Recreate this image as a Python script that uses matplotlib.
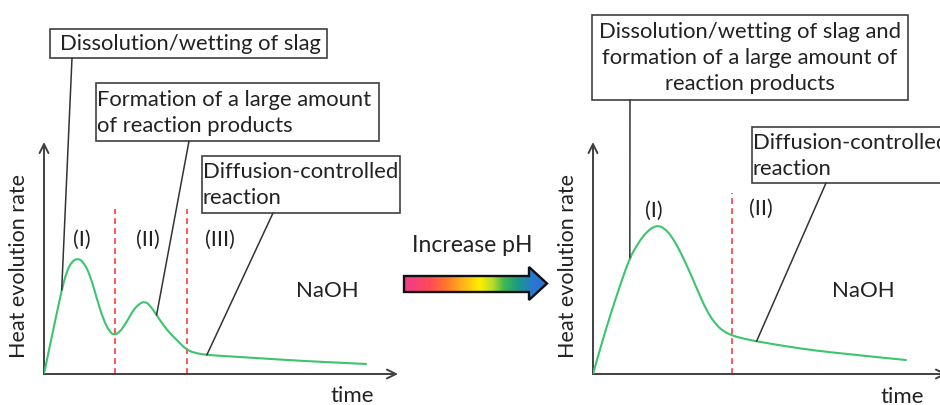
import matplotlib
matplotlib.use("Agg")
import matplotlib.pyplot as plt
from matplotlib.patches import Rectangle, Polygon, ConnectionPatch, PathPatch
from matplotlib.path import Path
from matplotlib.colors import LinearSegmentedColormap
import numpy as np

plt.rcParams['font.family'] = ['Lato', 'DejaVu Sans']

W, H, DPI = 940, 405, 100

# ---- heat evolution curves (arbitrary units, time 0-100, rate 0-100) ----
low_time = [0, 1.7, 3.1, 5.0, 6.4, 7.8, 9.5, 11.1, 13.0, 14.9, 16.8, 18.6, 19.9,
            21.5, 23.4, 25.2, 27.1, 28.5, 29.9, 31.8, 33.7, 35.6, 37.5, 40.3,
            43.1, 46.0, 53.4, 62.9, 72.3, 81.6, 91.2]
low_rate = [0, 12.5, 22.5, 36.2, 44.1, 48.4, 49.9, 48.4, 42.7, 32.6, 23.3, 18.0, 16.8,
            18.2, 22.5, 27.6, 30.5, 31.2, 29.7, 25.4, 21.1, 17.5, 14.7, 10.3,
            8.9, 8.2, 7.5, 6.6, 5.7, 5.0, 4.3]

high_time = [0, 2.3, 5.2, 8.0, 10.4, 12.7, 15.1, 17.9, 20.3, 22.6, 24.9, 27.3, 29.7,
             32.0, 34.4, 36.7, 39.4, 42.9, 46.2, 53.8, 63.2, 72.6, 82.0, 88.6]
high_rate = [0, 12.5, 26.9, 39.8, 50.1, 56.3, 61.3, 64.2, 62.8, 58.5, 52.0, 44.1, 35.5,
             27.6, 21.9, 18.5, 16.5, 15.1, 14.1, 12.1, 10.0, 8.5, 7.0, 6.0]

low_boundaries = [20.1, 40.4]
high_boundaries = [39.3]
low_stages = ['(I)', '(II)', '(III)']
high_stages = ['(I)', '(II)']

# arrow gradient stops
grad_pos = [0.0, 0.18, 0.30, 0.42, 0.53, 0.62, 0.70, 0.80, 0.90, 1.0]
grad_colors = ['#f03c8c', '#ff4a5a', '#ff7a28', '#ffb81a', '#ffef00', '#b8dc28',
               '#40b850', '#1a9a8a', '#2a78d0', '#2a6fd8']

TXT = '#222222'
AX = '#404040'
GREEN = '#3cc46e'
RED = '#ff3b3b'
FS = 15.5      # labels
FSB = 15.8     # boxed annotations
LS = 1.37

fig = plt.figure(figsize=(W / DPI, H / DPI), dpi=DPI)


def panel(left_px):
    # axes placed in pixel units, 354 x 232 px
    ax = fig.add_axes([left_px / W, 31 / H, 354 / W, 232 / H])
    ax.set_xlim(0, 100)
    ax.set_ylim(0, 100)
    ax.axis('off')
    arrow = dict(arrowstyle='->', color=AX, lw=1.4, shrinkA=0, shrinkB=0,
                 mutation_scale=16)
    ax.annotate('', xy=(1, 0), xytext=(0, 0), xycoords='axes fraction',
                arrowprops=arrow, annotation_clip=False)
    ax.annotate('', xy=(0, 1), xytext=(0, 0), xycoords='axes fraction',
                arrowprops=arrow, annotation_clip=False)
    return ax


def smooth_curve(ax, t, r, **kw):
    # quadratic Bezier through the midpoints of the sampled points
    p = np.column_stack([t, r])
    verts = [p[0]]
    codes = [Path.MOVETO]
    for i in range(1, len(p) - 1):
        verts += [p[i], (p[i] + p[i + 1]) / 2]
        codes += [Path.CURVE3, Path.CURVE3]
    verts.append(p[-1])
    codes.append(Path.LINETO)
    ax.add_patch(PathPatch(Path(verts, codes), fill=False, **kw))


axL = panel(44)
axR = panel(593)

for ax, t, r, bounds in ((axL, low_time, low_rate, low_boundaries),
                         (axR, high_time, high_rate, high_boundaries)):
    smooth_curve(ax, t, r, ec=GREEN, lw=1.5, zorder=3)
    top = 71 if ax is axL else 78
    for b in bounds:
        ax.plot([b, b], [0, top], color=RED, lw=1.2, dashes=(3.5, 2.5), zorder=2)

for lab, (x, y) in zip(low_stages, [(10.7, 57.8), (29.4, 57.8), (49.7, 57.8)]):
    axL.text(x, y, lab, ha='center', va='center', fontsize=FS, color=TXT)
for lab, (x, y) in zip(high_stages, [(17.2, 70.3), (47.5, 71.1)]):
    axR.text(x, y, lab, ha='center', va='center', fontsize=FS, color=TXT)

# overlay in pixel coordinates (y downwards)
ov = fig.add_axes([0, 0, 1, 1], zorder=5)
ov.set_xlim(0, W)
ov.set_ylim(H, 0)
ov.axis('off')
ov.patch.set_alpha(0)

# axis labels
for x in (19, 568):
    ov.text(x, 266, 'Heat evolution rate', rotation=90, ha='center', va='center',
            fontsize=FS, color=TXT)
ov.text(352, 396, 'time', ha='center', va='center', fontsize=16, color=TXT)
ov.text(902, 397, 'time', ha='center', va='center', fontsize=16, color=TXT)
ov.text(327, 291, 'NaOH', ha='center', va='center', fontsize=16, color=TXT)
ov.text(863, 291, 'NaOH', ha='center', va='center', fontsize=16, color=TXT)


def box(x0, y0, x1, y1):
    ov.add_patch(Rectangle((x0, y0), x1 - x0, y1 - y0, fill=True, fc='white',
                           ec=AX, lw=1.2, zorder=4, clip_on=False))


def leader(p_px, ax, pt):
    con = ConnectionPatch(xyA=p_px, coordsA=ov.transData, xyB=pt, coordsB=ax.transData,
                          color='#333333', lw=1.1, zorder=6)
    fig.add_artist(con)


# left annotations
box(50, 29, 327, 58)
ov.text(190, 44, 'Dissolution/wetting of slag', ha='center', va='center',
        fontsize=FSB, color=TXT, zorder=7)
box(96, 83, 379, 141)
ov.text(97, 113, 'Formation of a large amount\nof reaction products', ha='left',
        va='center', fontsize=FSB, color=TXT, linespacing=LS, zorder=7)
box(202, 156, 400, 213)
ov.text(203, 185, 'Diffusion-controlled\nreaction', ha='left', va='center',
        fontsize=FSB, color=TXT, linespacing=LS, zorder=7)
leader((72, 58), axL, (low_time[3], low_rate[3]))
leader((189, 141), axL, (low_time[19], low_rate[19]))
leader((273, 213), axL, (low_time[25], low_rate[25]))

# right annotations
box(592, 15, 908, 100)
ov.text(750, 58, 'Dissolution/wetting of slag and\nformation of a large amount of\nreaction products',
        ha='center', va='center', fontsize=FSB, color=TXT, linespacing=LS, zorder=7)
box(752, 127, 960, 183)
ov.text(753, 156, 'Diffusion-controlled\nreaction', ha='left', va='center',
        fontsize=FSB, color=TXT, linespacing=LS, zorder=7)
leader((630, 100), axR, (high_time[4], high_rate[4]))
leader((826, 183), axR, (high_time[18], high_rate[18]))

# pH arrow with rainbow gradient
ov.text(472, 245, 'Increase pH', ha='center', va='center', fontsize=16.5, color=TXT)
arrow_pts = [(404, 276), (529, 276), (529, 267), (547, 283.5), (529, 300),
             (529, 292), (404, 292)]
poly = Polygon(arrow_pts, closed=True, fc='none', ec='#111111', lw=1.7, zorder=8,
               joinstyle='miter')
ov.add_patch(poly)
cmap = LinearSegmentedColormap.from_list('ph', list(zip(grad_pos, grad_colors)))
grad = np.linspace(0, 1, 256).reshape(1, -1)
im = ov.imshow(grad, cmap=cmap, extent=(404, 547, 300, 267), aspect='auto',
               interpolation='bilinear', zorder=7)
im.set_clip_path(poly)
ov.set_xlim(0, W)
ov.set_ylim(H, 0)

fig.savefig('out.png', dpi=DPI, facecolor='white')
